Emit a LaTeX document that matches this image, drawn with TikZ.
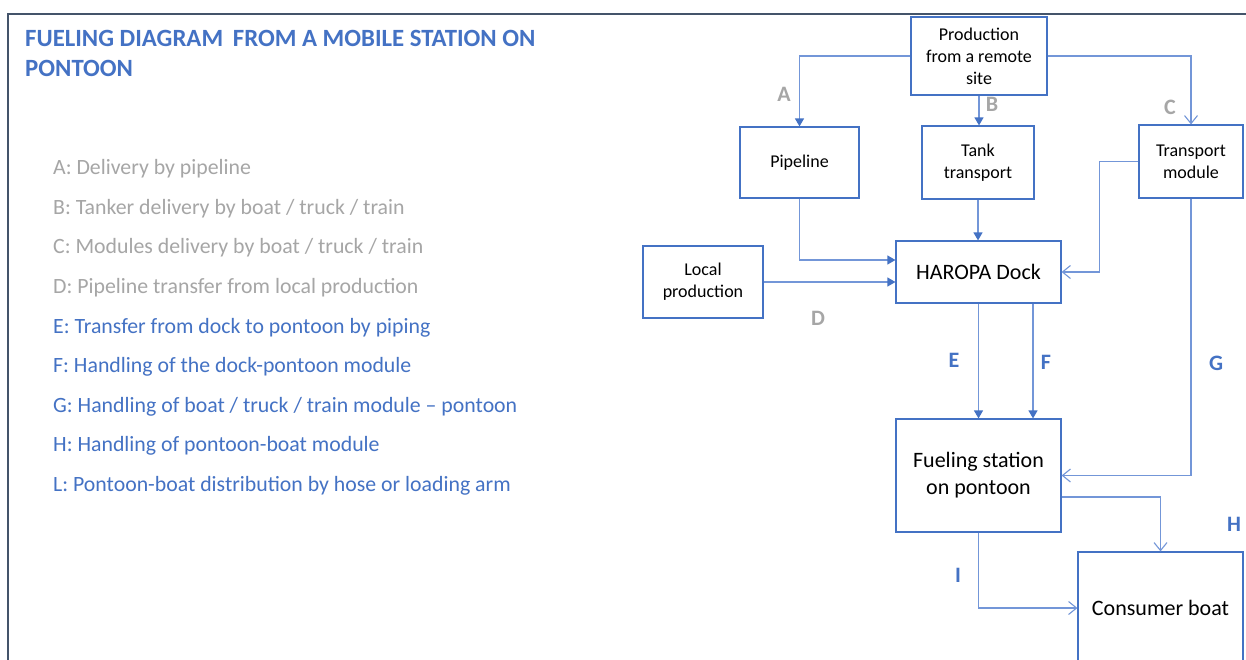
\documentclass[tikz,border=0pt]{standalone}
\usepackage{fontspec}
\setmainfont{Carlito}
\usetikzlibrary{arrows.meta}
\definecolor{frameclr}{HTML}{44546A}
\definecolor{accent}{HTML}{4472C4}
\definecolor{linkclr}{HTML}{7396D8}
\definecolor{softgray}{HTML}{A6A6A6}
\tikzset{
  box/.style={draw=accent, line width=1.2pt, rectangle, inner sep=0pt, align=center, text=black},
  smalltext/.style={font=\fontsize{18}{22}\selectfont},
  bigtext/.style={font=\fontsize{22}{27}\selectfont},
  solidlink/.style={draw=linkclr, line width=1.2pt, -{Triangle[length=8pt,width=9pt,fill=accent,color=accent]}},
  openlink/.style={draw=linkclr, line width=1.2pt, -{Straight Barb[length=8pt,width=13pt,line width=1.1pt]}},
  graylabel/.style={font=\bfseries\fontsize{22}{26}\selectfont, text=softgray},
  bluelabel/.style={font=\bfseries\fontsize{22}{26}\selectfont, text=accent},
  legendgray/.style={anchor=west, font=\fontsize{21.8}{26}\selectfont, text=softgray, inner sep=0pt},
  legendblue/.style={anchor=west, font=\fontsize{21.8}{26}\selectfont, text=accent, inner sep=0pt},
  titletext/.style={anchor=west, inner sep=0pt, text=accent, font=\bfseries\fontsize{24.8}{30}\selectfont},
}
\begin{document}
\begin{tikzpicture}[x=1pt,y=-1pt]
\useasboundingbox (0,0) rectangle (1246,659);
\fill[white] (0,0) rectangle (1246,659);

% outer frame (top and left edges)
\draw[frameclr, line width=2pt] (8,680) -- (8,14) -- (1260,14);

% title
\node[titletext] (title1) at (25,38) {FUELING DIAGRAM\, FROM A MOBILE STATION ON};
\node[titletext] (title2) at (25,68) {PONTOON};

% legend
\node[legendgray] (lA) at (53,169) {A: Delivery by pipeline};
\node[legendgray] (lB) at (53,209) {B: Tanker delivery by boat / truck / train};
\node[legendgray] (lC) at (53,248) {C: Modules delivery by boat / truck / train};
\node[legendgray] (lD) at (53,288) {D: Pipeline transfer from local production};
\node[legendblue] (lE) at (53,328) {E: Transfer from dock to pontoon by piping};
\node[legendblue] (lF) at (53,367) {F: Handling of the dock-pontoon module};
\node[legendblue] (lG) at (53,407) {G: Handling of boat / truck / train module -- pontoon};
\node[legendblue] (lH) at (53,446) {H: Handling of pontoon-boat module};
\node[legendblue] (lL) at (53,486) {L: Pontoon-boat distribution by hose or loading arm};

% boxes
\node[box, smalltext, minimum width=136pt, minimum height=78pt] (prod) at (979,56) {Production\\from a remote\\site};
\node[box, smalltext, minimum width=119pt, minimum height=71pt] (pipe) at (799.5,162.5) {Pipeline};
\node[box, smalltext, minimum width=112pt, minimum height=73pt] (tank) at (978,162.5) {Tank\\transport};
\node[box, smalltext, minimum width=104pt, minimum height=73pt] (tmod) at (1191,161.5) {Transport\\module};
\node[box, smalltext, minimum width=120pt, minimum height=72pt] (local) at (703,282) {Local\\production};
\node[box, bigtext, minimum width=165pt, minimum height=62pt] (dock) at (978.5,272) {HAROPA Dock};
\node[box, bigtext, minimum width=165pt, minimum height=113pt] (fuel) at (978.5,475.5) {Fueling station\\on pontoon};
\node[box, bigtext, minimum width=165pt, minimum height=112pt] (boat) at (1160.5,608) {Consumer boat};

% connectors
\draw[solidlink] (prod.west) -| (pipe.north);
\draw[solidlink] (prod.south) -- (prod.south |- tank.north);
\draw[openlink] (prod.east) -| (tmod.north);
\draw[solidlink] (pipe.south) |- ([yshift=12pt]dock.west);
\draw[solidlink] (local.east) -- (local.east -| dock.west);
\draw[solidlink] (tank.south) -- (tank.south |- dock.north);
\draw[openlink] (tmod.west) -- ++(-39,0) |- (dock.east);
\draw[solidlink] (dock.south) -- (dock.south |- fuel.north);
\draw[solidlink] ([xshift=54.5pt]dock.south) -- ([xshift=54.5pt]dock.south |- fuel.north);
\draw[openlink] (tmod.south) |- (fuel.east);
\draw[openlink] ([yshift=-21.5pt]fuel.east) -| (boat.north);
\draw[openlink] (fuel.south) |- (boat.west);

% connector labels
\node[graylabel] (tA) at (784,94) {A};
\node[graylabel] (tB) at (992,104) {B};
\node[graylabel] (tC) at (1170,107) {C};
\node[graylabel] (tD) at (818,318) {D};
\node[bluelabel] (tE) at (954,360) {E};
\node[bluelabel] (tF) at (1046,362) {F};
\node[bluelabel] (tG) at (1216,363) {G};
\node[bluelabel] (tH) at (1234,524) {H};
\node[bluelabel] (tI) at (958,575) {I};
\end{tikzpicture}
\end{document}
